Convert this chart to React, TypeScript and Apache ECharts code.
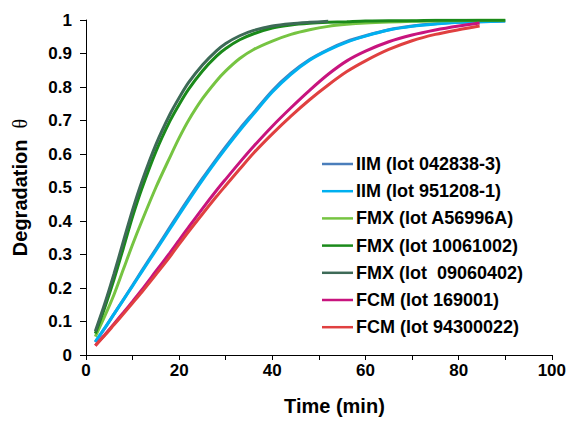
import React, { useEffect, useRef } from "react";
import * as echarts from "echarts";

const timeMin = [2, 4, 6, 8, 10, 12, 15, 18, 20, 22, 25, 28, 30, 33, 36, 40, 44, 48, 52, 56, 60, 65, 70, 75, 80, 84.5, 90];

const iim042838 = [0.038, 0.079, 0.122, 0.165, 0.208, 0.252, 0.316, 0.381, 0.424, 0.466, 0.527, 0.585, 0.622, 0.675, 0.724, 0.789, 0.841, 0.882, 0.912, 0.936, 0.953, 0.971, 0.982, 0.989, 0.993, 0.995, 0.997];
const iim951208 = [0.040, 0.080, 0.122, 0.164, 0.206, 0.249, 0.312, 0.376, 0.419, 0.461, 0.522, 0.580, 0.617, 0.670, 0.720, 0.785, 0.838, 0.880, 0.910, 0.934, 0.952, 0.970, 0.981, 0.988, 0.993, 0.995, 0.997];
const fmxA56996A = [0.055, 0.115, 0.180, 0.255, 0.330, 0.400, 0.500, 0.590, 0.648, 0.700, 0.765, 0.818, 0.848, 0.885, 0.912, 0.937, 0.957, 0.971, 0.981, 0.987, 0.991, 0.994, 0.996, 0.997, 0.998, 0.999, 0.999];
const fmx10061002 = [0.064, 0.140, 0.225, 0.318, 0.413, 0.497, 0.607, 0.698, 0.748, 0.793, 0.848, 0.892, 0.915, 0.941, 0.959, 0.976, 0.985, 0.990, 0.993, 0.995, 0.997, 0.998, 0.998, 0.999, 0.999, 0.999, 0.999];
const fmx09060402 = [0.071, 0.152, 0.242, 0.338, 0.433, 0.518, 0.628, 0.718, 0.768, 0.813, 0.866, 0.908, 0.930, 0.953, 0.969, 0.982, 0.989, 0.993, 0.996, null, null, null, null, null, null, null, null];
const fcm169001 = [0.028, 0.060, 0.093, 0.126, 0.160, 0.195, 0.250, 0.305, 0.343, 0.381, 0.437, 0.491, 0.525, 0.575, 0.623, 0.683, 0.738, 0.790, 0.838, 0.878, 0.907, 0.935, 0.955, 0.970, 0.982, 0.991, null];
const fcm94300022 = [0.028, 0.058, 0.090, 0.122, 0.155, 0.188, 0.240, 0.293, 0.331, 0.368, 0.421, 0.473, 0.506, 0.555, 0.603, 0.660, 0.713, 0.762, 0.806, 0.846, 0.878, 0.912, 0.938, 0.957, 0.971, 0.982, null];

const seriesNames = [
  "IIM (lot 042838-3)",
  "IIM (lot 951208-1)",
  "FMX (lot A56996A)",
  "FMX (lot 10061002)",
  "FMX (lot  09060402)",
  "FCM (lot 169001)",
  "FCM (lot 94300022)",
];
const seriesValues = [iim042838, iim951208, fmxA56996A, fmx10061002, fmx09060402, fcm169001, fcm94300022];
const seriesColors = ["#4A7EBB", "#00B0F0", "#76C442", "#1A8A1A", "#3D6A57", "#C8147E", "#E04040"];

const FONT = '"Liberation Sans", Arial, sans-serif';

export default function App() {
  const ref = useRef<HTMLDivElement>(null);
  useEffect(() => {
    if (!ref.current) return;
    const chart = echarts.init(ref.current, undefined, { renderer: "svg" });
    const series = seriesNames.map((name, k) => ({
      name,
      type: "line",
      symbol: "none",
      smooth: 0.3,
      lineStyle: { width: 3, color: seriesColors[k] },
      itemStyle: { color: seriesColors[k] },
      data: timeMin
        .map((t, i) => [t, seriesValues[k][i]])
        .filter((p) => p[1] !== null),
    }));
    chart.setOption({
      animation: false,
      backgroundColor: "#ffffff",
      grid: { left: 86, right: 16, top: 20, bottom: 61, containLabel: false },
      legend: {
        orient: "vertical",
        left: 322,
        top: 154,
        padding: 0,
        icon: "rect",
        itemWidth: 31,
        itemHeight: 2.5,
        itemGap: 7.2,
        textStyle: {
          fontFamily: FONT,
          fontWeight: "bold",
          fontSize: 18,
          color: "#000",
          lineHeight: 20,
          padding: [0, 0, 0, -2],
        },
        data: seriesNames,
      },
      xAxis: {
        type: "value",
        min: 0,
        max: 100,
        interval: 10,
        name: "Time (min)",
        nameLocation: "middle",
        nameGap: 41,
        nameTextStyle: {
          fontFamily: FONT,
          fontWeight: "bold",
          fontSize: 20,
          color: "#000",
          padding: [0, 0, 0, 31],
        },
        axisLine: { lineStyle: { color: "#000", width: 1 } },
        axisTick: { show: true, length: 5, inside: false, lineStyle: { color: "#000" } },
        splitLine: { show: false },
        axisLabel: {
          margin: 7,
          fontFamily: FONT,
          fontWeight: "bold",
          fontSize: 17,
          color: "#000",
          formatter: (v: number) => (Math.round(v) % 20 === 0 ? String(Math.round(v)) : ""),
        },
      },
      yAxis: {
        type: "value",
        min: 0,
        max: 1,
        interval: 0.1,
        name: "Degradation  {t|θ}",
        nameLocation: "middle",
        nameGap: 56,
        nameRotate: 90,
        nameTextStyle: {
          fontFamily: FONT,
          fontWeight: "bold",
          fontSize: 20,
          color: "#000",
          rich: {
            t: { fontFamily: '"Liberation Serif", serif', fontWeight: "normal", fontSize: 20, color: "#000" },
          },
        },
        axisLine: { show: true, lineStyle: { color: "#000", width: 1 } },
        axisTick: { show: true, length: 6, inside: false, lineStyle: { color: "#000" } },
        splitLine: { show: false },
        axisLabel: {
          margin: 14,
          fontFamily: FONT,
          fontWeight: "bold",
          fontSize: 17,
          color: "#000",
          formatter: (v: number) => String(Number(v.toFixed(1))),
        },
      },
      series,
    });
    return () => chart.dispose();
  }, []);
  return (
    <div
      ref={ref}
      style={{ position: "fixed", left: 0, top: 0, width: 569, height: 421, background: "#fff" }}
    />
  );
}
